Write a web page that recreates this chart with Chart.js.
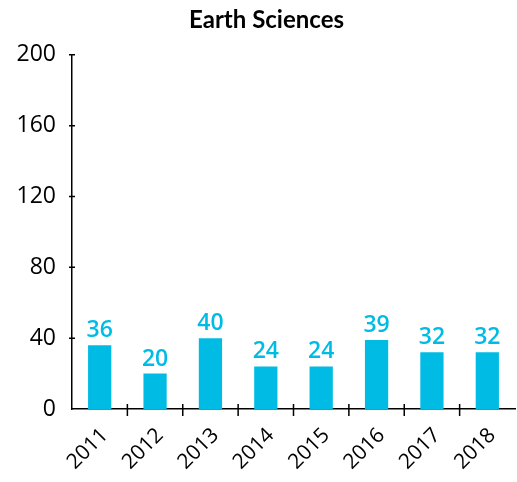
<!DOCTYPE html>
<html>
<head>
<meta charset="utf-8">
<script src="https://cdn.jsdelivr.net/npm/chart.js@4"></script>
<style>
  html, body { margin: 0; padding: 0; background: #fff; }
  #wrap { width: 517px; height: 482px; }
</style>
</head>
<body>
<div id="wrap"><canvas id="chart"></canvas></div>
<script>
const years = ['2011', '2012', '2013', '2014', '2015', '2016', '2017', '2018'];
const counts = [36, 20, 40, 24, 24, 39, 32, 32];
const yTicks = [0, 40, 80, 120, 160, 200];

const barColor = '#00BCE4';

// value labels above each bar
const barLabels = {
    id: 'barLabels',
    afterDatasetsDraw(chart) {
        const ctx = chart.ctx;
        const meta = chart.getDatasetMeta(0);
        ctx.save();
        ctx.fillStyle = barColor;
        ctx.font = '600 23px "Open Sans"';
        ctx.textAlign = 'center';
        ctx.textBaseline = 'alphabetic';
        meta.data.forEach((bar, i) => {
            ctx.fillText(counts[i], bar.x, bar.y - 8);
        });
        ctx.restore();
    }
};

// small tick marks crossing both axes
const crossTicks = {
    id: 'crossTicks',
    afterDraw(chart) {
        const ctx = chart.ctx;
        const x = chart.scales.x, y = chart.scales.y;
        ctx.save();
        ctx.strokeStyle = '#000';
        ctx.lineWidth = 1.5;
        ctx.beginPath();
        yTicks.slice(1).forEach(v => {
            const py = y.getPixelForValue(v);
            ctx.moveTo(x.left - 3, py);
            ctx.lineTo(x.left + 3, py);
        });
        for (let i = 0; i < years.length - 1; i++) {
            const px = (x.getPixelForValue(i) + x.getPixelForValue(i + 1)) / 2;
            ctx.moveTo(px, y.bottom - 5);
            ctx.lineTo(px, y.bottom + 7);
        }
        ctx.stroke();
        ctx.restore();
    }
};

// the title in the reference sits a bit right of the canvas centre
const shiftTitle = {
    id: 'shiftTitle',
    beforeDraw(chart) {
        if (chart.titleBlock) chart.titleBlock.left = 18;
    }
};

new Chart(document.getElementById('chart'), {
    type: 'bar',
    data: {
        labels: years,
        datasets: [{
            data: counts,
            backgroundColor: barColor,
            categoryPercentage: 1,
            barPercentage: 0.42
        }]
    },
    options: {
        responsive: true,
        maintainAspectRatio: false,
        animation: false,
        layout: { padding: { left: 0, right: 2, top: 0, bottom: 0 } },
        plugins: {
            legend: { display: false },
            tooltip: { enabled: false },
            title: {
                display: true,
                text: 'Earth Sciences',
                color: '#000',
                font: { family: 'Lato', size: 24, weight: 'bold' },
                padding: { top: 6, bottom: 20 }
            }
        },
        scales: {
            x: {
                grid: { display: false },
                border: { color: '#000', width: 1.5 },
                afterFit(scale) { scale.height = 73; },
                ticks: {
                    color: '#000',
                    font: { family: 'Open Sans', size: 21 },
                    maxRotation: 45,
                    minRotation: 45,
                    padding: 6,
                    labelOffset: 5
                }
            },
            y: {
                min: 0,
                max: 200,
                grid: { display: false },
                border: { color: '#000', width: 1.5 },
                afterFit(scale) { scale.width = 72; },
                afterBuildTicks(scale) { scale.ticks = yTicks.map(v => ({ value: v })); },
                ticks: {
                    color: '#000',
                    font: { family: 'Open Sans', size: 23 },
                    padding: 8
                }
            }
        }
    },
    plugins: [barLabels, crossTicks, shiftTitle]
});
</script>
</body>
</html>
